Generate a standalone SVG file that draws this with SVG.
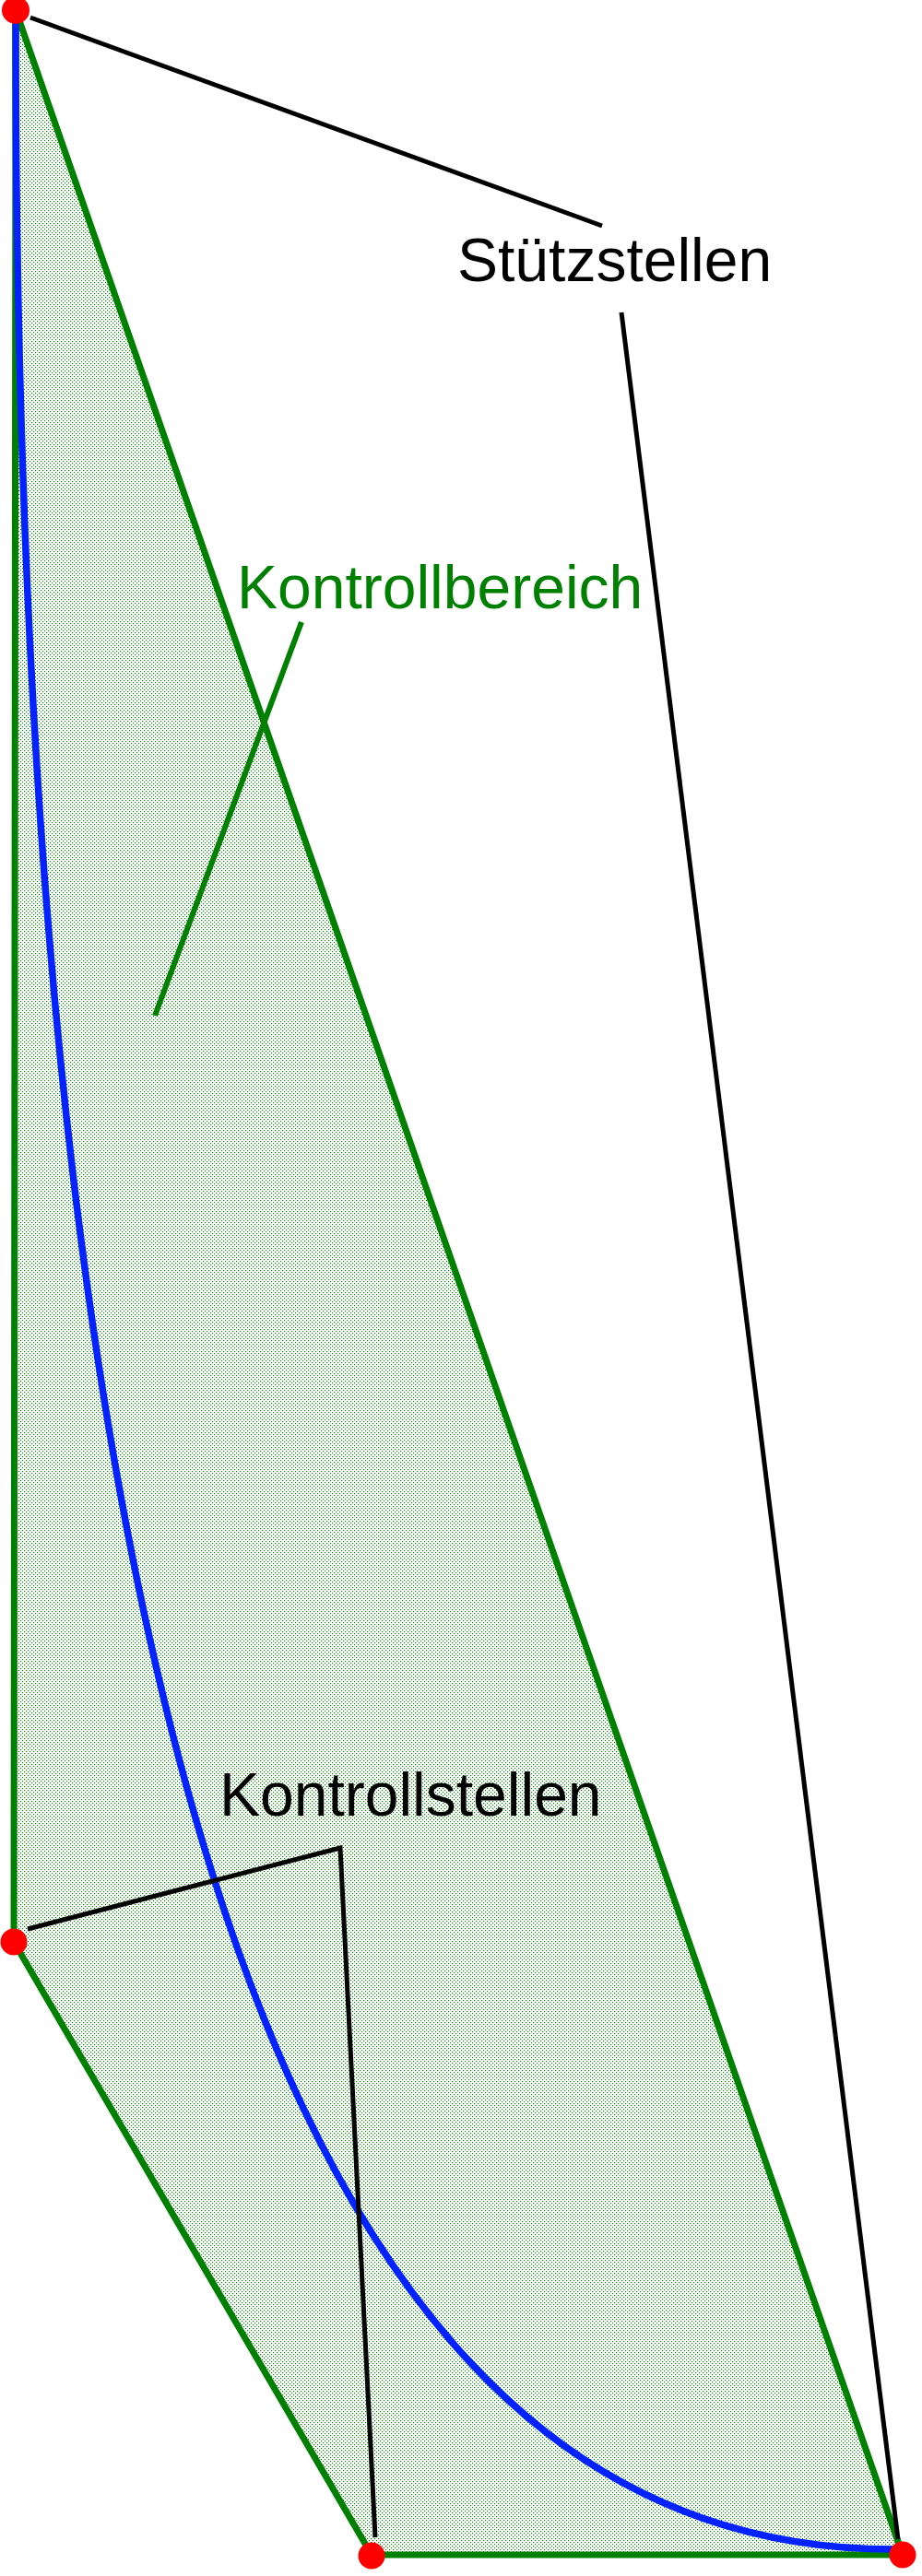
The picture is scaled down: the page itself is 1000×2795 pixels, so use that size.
<svg xmlns="http://www.w3.org/2000/svg" width="1000" height="2795" viewBox="0 0 1000 2795">
<style>
.txt{font-family:"Liberation Sans",Arial,sans-serif;font-size:66px}
.leader{fill:none;stroke:#000;stroke-width:5}
.pt{fill:#ff0000}
</style>
<defs>
<pattern id="dots" width="4" height="4" patternUnits="userSpaceOnUse">
<rect width="4" height="4" fill="#ffffff"/>
<rect x="0" y="0" width="1.15" height="1.15" fill="#008000"/>
<rect x="2" y="2" width="1.15" height="1.15" fill="#008000"/>
</pattern>
</defs>
<rect width="1000" height="2795" fill="#ffffff"/>
<g id="kontrollbereich">
<polygon points="17,11 15,2107 403,2772 979,2772" fill="url(#dots)" stroke="#008000" stroke-width="7" stroke-linejoin="round"/>
</g>
<g id="kurve">
<path d="M17,11 C15,2150 420,2773 979,2766" fill="none" stroke="#0022ff" stroke-width="7.5"/>
</g>
<g id="connectors">
<line class="leader" x1="33" y1="19" x2="653" y2="245"/>
<line class="leader" x1="674" y1="339" x2="974" y2="2755"/>
<line x1="327" y1="675" x2="168" y2="1102" stroke="#008000" stroke-width="6"/>
<polyline class="leader" points="30,2093 369,2005 407,2753"/>
</g>
<g id="stuetzstellen">
<circle class="pt" cx="17" cy="11" r="15"/>
<circle class="pt" cx="979" cy="2772" r="14.5"/>
</g>
<g id="kontrollstellen">
<circle class="pt" cx="15" cy="2107" r="14.5"/>
<circle class="pt" cx="403" cy="2773" r="14.5"/>
</g>
<g id="labels">
<text class="txt" x="496" y="305" fill="#000">Stützstellen</text>
<text class="txt" x="257" y="660" fill="#008000">Kontrollbereich</text>
<text class="txt" x="238" y="1970" fill="#000">Kontrollstellen</text>
</g>
</svg>
